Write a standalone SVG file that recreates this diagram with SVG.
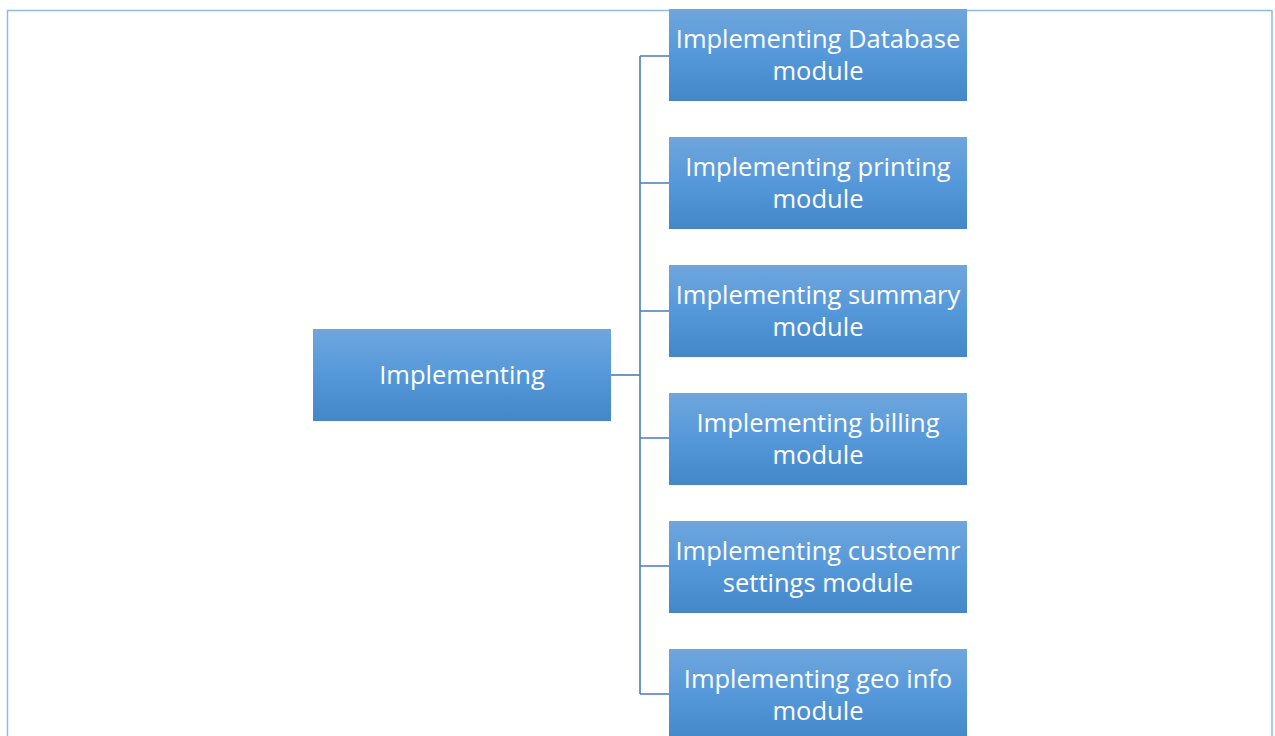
<svg xmlns="http://www.w3.org/2000/svg" width="1275" height="736" viewBox="0 0 1275 736">
  <defs>
    <linearGradient id="boxFill" x1="0" y1="0" x2="0" y2="1">
      <stop offset="0" stop-color="#6fa6dd"/>
      <stop offset="0.5" stop-color="#5598da"/>
      <stop offset="1" stop-color="#4487c9"/>
    </linearGradient>
    <style>
      .box { fill: url(#boxFill); }
      .label { font-family: "Open Sans", "Liberation Sans", sans-serif; font-size: 25.5px; fill: #ffffff; text-anchor: middle; }
      .wire { fill: none; stroke: #4a7db5; stroke-width: 1.6; }
      .frame { fill: #ffffff; stroke: #8dbbe6; stroke-width: 1.5; }
    </style>
  </defs>

  <rect x="0" y="0" width="1275" height="736" fill="#ffffff"/>
  <rect class="frame" x="7.5" y="10.5" width="1264.5" height="740"/>

  <g id="connectors">
    <path class="wire" d="M611 375 H640"/>
    <path class="wire" d="M640 56 V694"/>
    <path class="wire" d="M640 56 H669 M640 183 H669 M640 311 H669 M640 438 H669 M640 566 H669 M640 694 H669"/>
  </g>

  <g id="root">
    <rect class="box" x="313" y="329" width="298" height="92"/>
    <text class="label" x="462" y="384">Implementing</text>
  </g>

  <g id="db">
    <rect class="box" x="669" y="9" width="298" height="92"/>
    <text class="label" x="818" y="48">Implementing Database</text>
    <text class="label" x="818" y="80">module</text>
  </g>

  <g id="printing">
    <rect class="box" x="669" y="137" width="298" height="92"/>
    <text class="label" x="818" y="176">Implementing printing</text>
    <text class="label" x="818" y="208">module</text>
  </g>

  <g id="summary">
    <rect class="box" x="669" y="265" width="298" height="92"/>
    <text class="label" x="818" y="304">Implementing summary</text>
    <text class="label" x="818" y="336">module</text>
  </g>

  <g id="billing">
    <rect class="box" x="669" y="393" width="298" height="92"/>
    <text class="label" x="818" y="432">Implementing billing</text>
    <text class="label" x="818" y="464">module</text>
  </g>

  <g id="customer-settings">
    <rect class="box" x="669" y="521" width="298" height="92"/>
    <text class="label" x="818" y="560">Implementing custoemr</text>
    <text class="label" x="818" y="592">settings module</text>
  </g>

  <g id="geo-info">
    <rect class="box" x="669" y="649" width="298" height="92"/>
    <text class="label" x="818" y="688">Implementing geo info</text>
    <text class="label" x="818" y="720">module</text>
  </g>
</svg>
